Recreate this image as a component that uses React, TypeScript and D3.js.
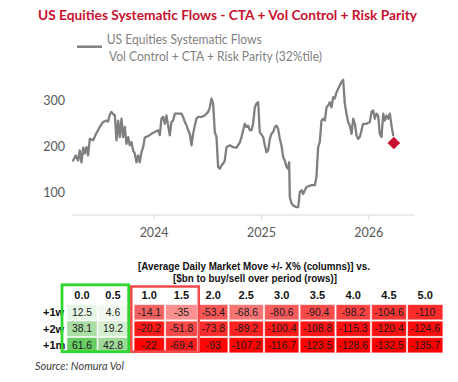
import React from "react";
import * as d3 from "d3";

// ---------- DATA ----------
const titleText = "US Equities Systematic Flows - CTA + Vol Control + Risk Parity";
const legendLine1 = "US Equities Systematic Flows";
const legendLine2 = "Vol Control + CTA + Risk Parity (32%tile)";
const sourceText = "Source: Nomura Vol";

// decimal year of each observation
const years = [
  2023.245, 2023.270, 2023.292, 2023.307, 2023.323, 2023.339, 2023.354, 2023.370, 2023.385, 2023.401,
  2023.432, 2023.463, 2023.494, 2023.525, 2023.556, 2023.571, 2023.587, 2023.602, 2023.618, 2023.634,
  2023.649, 2023.665, 2023.680, 2023.696, 2023.711, 2023.727, 2023.742, 2023.758, 2023.773, 2023.789,
  2023.804, 2023.820, 2023.835, 2023.851, 2023.866, 2023.882, 2023.898, 2023.913, 2023.944, 2023.975,
  2024.006, 2024.037, 2024.053, 2024.068, 2024.084, 2024.099, 2024.115, 2024.130, 2024.146, 2024.161,
  2024.177, 2024.193, 2024.224, 2024.255, 2024.270, 2024.286, 2024.301, 2024.317, 2024.332, 2024.348,
  2024.363, 2024.379, 2024.394, 2024.410, 2024.441, 2024.472, 2024.503, 2024.519, 2024.534, 2024.550,
  2024.565, 2024.581, 2024.596, 2024.612, 2024.627, 2024.643, 2024.658, 2024.674, 2024.705, 2024.736,
  2024.767, 2024.798, 2024.814, 2024.829, 2024.845, 2024.860, 2024.876, 2024.891, 2024.907, 2024.922,
  2024.938, 2024.953, 2024.969, 2024.984, 2025.016, 2025.031, 2025.047, 2025.062, 2025.078, 2025.093,
  2025.109, 2025.124, 2025.140, 2025.155, 2025.171, 2025.186, 2025.202, 2025.217, 2025.233, 2025.248,
  2025.258, 2025.264, 2025.280, 2025.295, 2025.326, 2025.342, 2025.357, 2025.373, 2025.388, 2025.404,
  2025.419, 2025.466, 2025.497, 2025.512, 2025.528, 2025.543, 2025.559, 2025.575, 2025.590, 2025.606,
  2025.621, 2025.637, 2025.652, 2025.668, 2025.683, 2025.699, 2025.730, 2025.745, 2025.761, 2025.776,
  2025.792, 2025.807, 2025.823, 2025.839, 2025.854, 2025.870, 2025.885, 2025.901, 2025.916, 2025.932,
  2025.947, 2025.978, 2026.009, 2026.025, 2026.040, 2026.056, 2026.071, 2026.087, 2026.102, 2026.118,
  2026.134, 2026.149, 2026.165, 2026.180, 2026.196, 2026.211, 2026.227,
];

// $bn positioning
const flows = [
  169, 180, 169, 191, 165, 197, 184, 198, 180, 216,
  213, 229, 242, 253, 256, 254, 268, 275, 270, 268,
  213, 256, 220, 260, 220, 242, 205, 220, 202, 209,
  191, 184, 165, 180, 165, 187, 198, 219, 222, 227,
  231, 235, 224, 260, 264, 249, 267, 245, 224, 253,
  256, 271, 271, 271, 264, 253, 246, 235, 227, 202,
  227, 245, 260, 264, 264, 267, 275, 285, 304, 293,
  231, 220, 155, 151, 158, 162, 169, 198, 202, 198,
  197, 208, 220, 235, 249, 242, 245, 235, 235, 249,
  285, 293, 296, 231, 220, 202, 187, 191, 216, 227,
  231, 242, 245, 238, 216, 202, 176, 169, 155, 151,
  165, 89, 75, 71, 67, 67, 100, 104, 96, 104,
  111, 115, 115, 133, 198, 209, 256, 260, 256, 285,
  289, 296, 285, 307, 304, 318, 333, 340, 345, 293,
  271, 253, 245, 227, 260, 249, 224, 216, 220, 235,
  249, 249, 253, 275, 278, 260, 271, 267, 227, 220,
  271, 256, 267, 260, 271, 245, 224,
];

const currentYear = 2026.233;
const currentValue = 207;

const yTicks = [100, 200, 300];
const xTicks = [2024, 2025, 2026];

// table
const tableHeader1 = "[Average Daily Market Move +/- X% (columns)] vs.";
const tableHeader2 = "[$bn to buy/sell over period (rows)]";
const moves = ["0.0", "0.5", "1.0", "1.5", "2.0", "2.5", "3.0", "3.5", "4.0", "4.5", "5.0"];
const periods = ["+1w", "+2w", "+1m"];
const row1w = [12.5, 4.6, -14.1, -35, -53.4, -68.6, -80.6, -90.4, -98.2, -104.6, -110];
const row2w = [38.1, 19.2, -20.2, -51.8, -73.8, -89.2, -100.4, -108.8, -115.3, -120.4, -124.6];
const row1m = [61.6, 42.8, -22, -69.4, -93, -107.2, -116.7, -123.5, -128.6, -132.5, -135.7];
const tableRows = [row1w, row2w, row1m];

// ---------- STYLES / LAYOUT ----------
const cellFills = [
  ["#e7f5e5", "#f2faf0", "#f36262", "#fb9090", "#f95757", "#f77474", "#f85b5b", "#fa4b4b", "#fb4242", "#fd3636", "#ff2b2b"],
  ["#aadea4", "#d6efd2", "#ff1a1a", "#f84848", "#fd2c2c", "#fd2222", "#ff1a1a", "#ff1515", "#ff1010", "#ff1010", "#ff0d0d"],
  ["#68cc63", "#9fd999", "#ff0303", "#ff1c1c", "#ff0505", "#ff0202", "#ff0000", "#ff0000", "#ff0000", "#ff0000", "#ff0000"],
];
const colWidths = [31, 31, 31.5, 33, 30.5, 35.5, 35.5, 36, 35.5, 36, 36.5];
const tableLeft = 66.5;
const gapAfterCol = 1;
const gapSize = 5;

const W = 458;
const H = 382;

export default function App() {
  const x = d3.scaleLinear().domain([2023.235, 2026.43]).range([72, 415]);
  const y = d3.scaleLinear().domain([50, 360]).range([215, 72.9]);

  const pts = years.map((yr, i) => [yr, flows[i]] as [number, number]);
  const line = d3
    .line<[number, number]>()
    .x((d) => x(d[0]))
    .y((d) => y(d[1]));

  const diamond = d3.symbol(d3.symbolSquare, 80)();

  // column positions
  const colStarts: number[] = [];
  let acc = tableLeft;
  colWidths.forEach((w, i) => {
    colStarts.push(acc);
    acc += w;
    if (i === gapAfterCol) acc += gapSize;
  });
  const rowBand = d3.scaleBand<string>().domain(periods).range([304, 353.5]).paddingInner(0);

  const chartFont = "Lato, 'Open Sans', sans-serif";
  const tableFont = "'Liberation Sans', Arial, sans-serif";

  return (
    <svg width={W} height={H} style={{ position: "absolute", left: 0, top: 0, background: "#fff" }}>
      <rect width={W} height={H} fill="#fff" />
      {/* title */}
      <text
        x={38}
        y={19.5}
        fill="#c8102e"
        fontFamily={chartFont}
        fontWeight={700}
        fontSize={13.5}
        textLength={379}
        lengthAdjust="spacingAndGlyphs"
      >
        {titleText}
      </text>

      {/* legend */}
      <line x1={77} x2={102} y1={46.7} y2={46.7} stroke="#808080" strokeWidth={2.5} />
      <text x={106.7} y={44} fill="#7f7f7f" fontFamily={chartFont} fontSize={13} textLength={155} lengthAdjust="spacingAndGlyphs">
        {legendLine1}
      </text>
      <text x={109} y={61} fill="#7f7f7f" fontFamily={chartFont} fontSize={13} textLength={213} lengthAdjust="spacingAndGlyphs">
        {legendLine2}
      </text>

      {/* y ticks */}
      {yTicks.map((t) => (
        <text key={t} x={65} y={y(t)} dy="0.36em" textAnchor="end" fill="#595959" fontFamily={chartFont} fontSize={12.5}>
          {t}
        </text>
      ))}

      {/* x axis */}
      <line x1={x.range()[0]} x2={x.range()[1]} y1={215} y2={215} stroke="#d9d9d9" strokeWidth={1} />
      {xTicks.map((t) => (
        <g key={t}>
          <line x1={x(t)} x2={x(t)} y1={215} y2={220} stroke="#d9d9d9" strokeWidth={1} />
          <text x={x(t)} y={236.5} textAnchor="middle" fill="#595959" fontFamily={chartFont} fontSize={12.5}>
            {t}
          </text>
        </g>
      ))}

      {/* series */}
      <path d={line(pts) || ""} fill="none" stroke="#7f7f7f" strokeWidth={2.3} strokeLinejoin="round" strokeLinecap="round" />
      <path d={diamond || ""} transform={`translate(${x(currentYear)},${y(currentValue)}) rotate(45)`} fill="#c8102e" />

      {/* table header */}
      <text x={254} y={270} textAnchor="middle" fontFamily={tableFont} fontWeight={700} fontSize={10.5} fill="#111" textLength={232} lengthAdjust="spacingAndGlyphs">
        {tableHeader1}
      </text>
      <text x={255} y={281.5} textAnchor="middle" fontFamily={tableFont} fontWeight={700} fontSize={10.5} fill="#111" textLength={164} lengthAdjust="spacingAndGlyphs">
        {tableHeader2}
      </text>

      {/* column headers */}
      {moves.map((m, i) => (
        <text key={m} x={colStarts[i] + colWidths[i] / 2} y={299} textAnchor="middle" fontFamily={tableFont} fontWeight={700} fontSize={11} fill="#111">
          {m}
        </text>
      ))}

      {/* row labels */}
      {periods.map((p) => (
        <text key={p} x={43} y={(rowBand(p) || 0) + rowBand.bandwidth() / 2} dy="0.36em" fontFamily={tableFont} fontWeight={700} fontSize={11} fill="#111">
          {p}
        </text>
      ))}

      {/* cells */}
      {tableRows.map((row, r) =>
        row.map((v, c) => {
          const top = rowBand(periods[r]) || 0;
          const h = rowBand.bandwidth();
          return (
            <g key={`${r}-${c}`}>
              <rect
                x={colStarts[c] + 0.75}
                y={top + 0.75}
                width={colWidths[c] - 1.5}
                height={h - 1.5}
                fill={cellFills[r][c]}
                stroke={v < 0 ? "rgba(255,255,255,0.35)" : "none"}
                strokeWidth={0.8}
              />
              <text
                x={colStarts[c] + colWidths[c] / 2}
                y={top + h / 2}
                dy="0.36em"
                textAnchor="middle"
                fontFamily={tableFont}
                fontSize={10.4}
                fill="#1a1a1a"
              >
                {v}
              </text>
            </g>
          );
        })
      )}

      {/* highlight boxes */}
      <rect x={62} y={284.8} width={66.7} height={66.9} fill="none" stroke="#2fd62f" strokeWidth={2.8} />
      <rect x={131.3} y={286.5} width={67.5} height={65.2} fill="none" stroke="#f24a4a" strokeWidth={2.5} />

      {/* source */}
      <text x={35} y={370} fontFamily={chartFont} fontStyle="italic" fontSize={11} fill="#404040" textLength={89} lengthAdjust="spacingAndGlyphs">
        {sourceText}
      </text>
    </svg>
  );
}
